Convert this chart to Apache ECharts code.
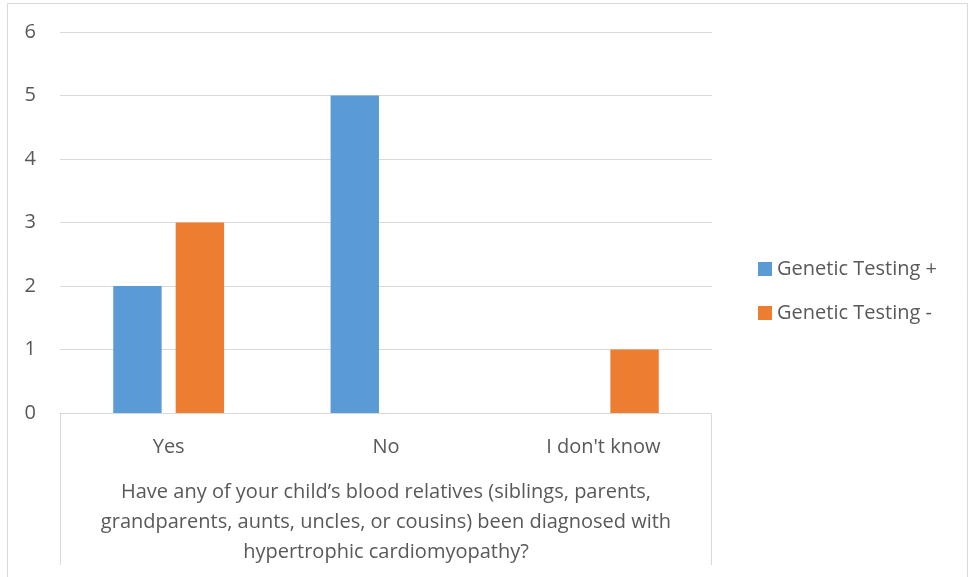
<!DOCTYPE html>
<html>
<head>
<meta charset="utf-8">
<script src="https://cdn.jsdelivr.net/npm/echarts@6/dist/echarts.min.js"></script>
<style>
  html, body { margin: 0; padding: 0; background: #fff; }
  #main { width: 969px; height: 577px; }
</style>
</head>
<body>
<div id="main"></div>
<script>
var categories = ['Yes', 'No', "I don't know"];
var positiveValues = [2, 5, 0];
var negativeValues = [3, 0, 1];
var seriesNames = ['Genetic Testing +', 'Genetic Testing -'];
var axisTitle = 'Have any of your child\u2019s blood relatives (siblings, parents,\ngrandparents, aunts, uncles, or cousins) been diagnosed with\nhypertrophic cardiomyopathy?';

var font = 'Open Sans';
var textColor = '#595959';
var lineColor = '#d9d9d9';

var myChart = echarts.init(document.getElementById('main'));
var option = {
    backgroundColor: '#fff',
    textStyle: { fontFamily: font },
    grid: { left: 60, right: 257, top: 32, bottom: 164, outerBoundsMode: 'none', containLabel: false },
    legend: {
        orient: 'vertical',
        left: 753,
        top: 254,
        itemWidth: 14,
        itemHeight: 14,
        itemGap: 24,
        icon: 'rect',
        textStyle: { color: textColor, fontSize: 20, fontFamily: font },
        data: seriesNames
    },
    xAxis: {
        type: 'category',
        data: categories,
        axisLine: { lineStyle: { color: lineColor, width: 1 } },
        axisTick: { show: false },
        axisLabel: { color: textColor, fontSize: 20, margin: 24 },
        name: axisTitle,
        nameLocation: 'middle',
        nameGap: 64,
        nameTextStyle: { color: textColor, fontSize: 20, lineHeight: 30, align: 'center', verticalAlign: 'top' }
    },
    yAxis: {
        type: 'value',
        min: 0,
        max: 6,
        interval: 1,
        axisLine: { show: false },
        axisTick: { show: false },
        axisLabel: { color: textColor, fontSize: 20, margin: 24 },
        splitLine: { lineStyle: { color: lineColor, width: 1 } }
    },
    graphic: [
        { type: 'rect', shape: { x: 7.5, y: 3.5, width: 960, height: 580 }, style: { fill: null, stroke: lineColor, lineWidth: 1 }, silent: true },
        { type: 'line', shape: { x1: 60.5, y1: 413, x2: 60.5, y2: 565 }, style: { stroke: lineColor, lineWidth: 1 }, silent: true },
        { type: 'line', shape: { x1: 711.5, y1: 413, x2: 711.5, y2: 565 }, style: { stroke: lineColor, lineWidth: 1 }, silent: true }
    ],
    series: [{
        type: 'bar',
        name: seriesNames[0],
        data: positiveValues,
        itemStyle: { color: '#5b9bd5' },
        barGap: '29%',
        barCategoryGap: '49%'
    }, {
        type: 'bar',
        name: seriesNames[1],
        data: negativeValues,
        itemStyle: { color: '#ed7d31' }
    }]
};
myChart.setOption(option);
</script>
</body>
</html>
